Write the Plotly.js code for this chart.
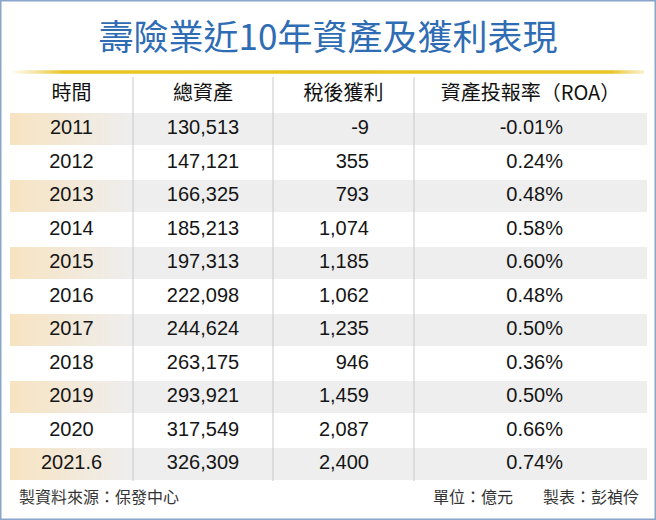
<!DOCTYPE html>
<html>
<head>
<meta charset="utf-8">
<script src="https://cdn.plot.ly/plotly-3.0.1.min.js"></script>
<style>html,body{margin:0;padding:0;background:#fff;}#chart{width:656px;height:520px;}</style>
</head>
<body>
<div id="chart"></div>
<script>
// ---- data ----
var titleText = '壽險業近10年資產及獲利表現';
var headers = ['時間', '總資產', '稅後獲利', '資產投報率（ROA）'];
var years = ['2011', '2012', '2013', '2014', '2015', '2016', '2017', '2018', '2019', '2020', '2021.6'];
var totalAssets = [130513, 147121, 166325, 185213, 197313, 222098, 244624, 263175, 293921, 317549, 326309];
var netProfit = [-9, 355, 793, 1074, 1185, 1062, 1235, 946, 1459, 2087, 2400];
var roa = [-0.01, 0.24, 0.48, 0.58, 0.60, 0.48, 0.50, 0.36, 0.50, 0.66, 0.74];
var sourceNote = '製資料來源：保發中心';
var unitNote = '單位：億元';
var authorNote = '製表：彭禎伶';

// ---- layout geometry (pixel units) ----
var W = 656, H = 520;
var colEdges = [10, 133, 273, 414, 647];
var headerY = 95;
var firstRowY = 129;
var rowPitch = 33.5;
var bandH = 32;
var cjk = '"Noto Sans CJK TC", "Noto Sans CJK SC", sans-serif';
var latin = '"Liberation Sans", Arial, sans-serif';
var textColor = '#151515';

function fmtInt(v) { return v.toLocaleString('en-US'); }
function fmtPct(v) { return v.toFixed(2) + '%'; }
function rowY(i) { return firstRowY + i * rowPitch; }

var rowYs = years.map(function (_, i) { return rowY(i); });
var shadedIdx = years.map(function (_, i) { return i; }).filter(function (i) { return i % 2 === 0; });

var traces = [];

// grey bands
traces.push({
  type: 'bar', orientation: 'h',
  y: shadedIdx.map(rowY),
  x: shadedIdx.map(function () { return colEdges[4] - colEdges[0]; }),
  base: shadedIdx.map(function () { return colEdges[0]; }),
  width: bandH,
  marker: { color: '#eeeeee', line: { width: 0 } },
  hoverinfo: 'skip'
});

// tan gradient in first column of shaded rows
var gx = [], gy = [];
shadedIdx.forEach(function (i) {
  var c = rowY(i), t = c - bandH / 2, b = c + bandH / 2;
  gx.push(colEdges[0], colEdges[1], colEdges[1], colEdges[0], colEdges[0], null);
  gy.push(t, t, b, b, t, null);
});
traces.push({
  type: 'scatter', mode: 'lines', x: gx, y: gy, fill: 'toself',
  line: { width: 0, color: 'rgba(0,0,0,0)' },
  fillgradient: { type: 'horizontal', colorscale: [[0, '#f7e3c0'], [0.45, '#f3e8d6'], [1, '#eeeeee']] },
  hoverinfo: 'skip'
});

// gold rule under title
traces.push({
  type: 'scatter', mode: 'lines',
  x: [12, 644, 644, 12, 12], y: [70.3, 70.3, 73.8, 73.8, 70.3], fill: 'toself',
  line: { width: 0, color: 'rgba(0,0,0,0)' },
  fillgradient: { type: 'horizontal', colorscale: [[0, 'rgba(236,205,80,0.05)'], [0.08, '#e9c52a'], [0.5, '#e7c21e'], [0.95, '#e9c52a'], [1, 'rgba(236,205,80,0.3)']] },
  hoverinfo: 'skip'
});

// header text
traces.push({
  type: 'scatter', mode: 'text',
  x: headers.map(function (_, j) { return (colEdges[j] + colEdges[j + 1]) / 2; }),
  y: headers.map(function () { return headerY; }),
  text: headers, textposition: 'middle center',
  textfont: { family: cjk, size: 20, color: '#111111' },
  hoverinfo: 'skip'
});

// body columns
traces.push({
  type: 'scatter', mode: 'text',
  x: years.map(function () { return (colEdges[0] + colEdges[1]) / 2; }), y: rowYs,
  text: years, textposition: 'middle center',
  textfont: { family: latin, size: 20, color: textColor }, hoverinfo: 'skip'
});
traces.push({
  type: 'scatter', mode: 'text',
  x: years.map(function () { return (colEdges[1] + colEdges[2]) / 2; }), y: rowYs,
  text: totalAssets.map(fmtInt), textposition: 'middle center',
  textfont: { family: latin, size: 20, color: textColor }, hoverinfo: 'skip'
});
traces.push({
  type: 'scatter', mode: 'text',
  x: years.map(function () { return 369; }), y: rowYs,
  text: netProfit.map(fmtInt), textposition: 'middle left',
  textfont: { family: latin, size: 20, color: textColor }, hoverinfo: 'skip'
});
traces.push({
  type: 'scatter', mode: 'text',
  x: years.map(function () { return 563; }), y: rowYs,
  text: roa.map(fmtPct), textposition: 'middle left',
  textfont: { family: latin, size: 20, color: textColor }, hoverinfo: 'skip'
});

var shapes = [];
// vertical dividers
[1, 2, 3].forEach(function (j) {
  shapes.push({ type: 'line', xref: 'x', yref: 'y', x0: colEdges[j], x1: colEdges[j], y0: 77, y1: rowY(years.length - 1) + bandH / 2 + 1,
    line: { color: '#c9c9c9', width: 1 } });
});
// outer frame
shapes.push({ type: 'rect', xref: 'paper', yref: 'paper', x0: 0, x1: 1, y0: 0, y1: 1,
  line: { color: '#8aa5ca', width: 3 }, fillcolor: 'rgba(0,0,0,0)' });

var layout = {
  width: W, height: H,
  margin: { l: 0, r: 0, t: 0, b: 0, pad: 0 },
  paper_bgcolor: '#ffffff', plot_bgcolor: '#ffffff',
  showlegend: false, hovermode: false,
  title: { text: titleText, x: 0.5, xanchor: 'center', xref: 'paper', y: 1 - 38 / H, yref: 'paper', yanchor: 'middle',
    font: { family: cjk, size: 35, color: '#2e6cb4', weight: 'normal' } },
  xaxis: { range: [0, W], visible: false, fixedrange: true },
  yaxis: { range: [H, 0], visible: false, fixedrange: true },
  barmode: 'overlay',
  shapes: shapes,
  annotations: [
    { x: 17, y: 496, xref: 'x', yref: 'y', text: sourceNote, showarrow: false, xanchor: 'left', yanchor: 'middle',
      font: { family: cjk, size: 16, color: '#333333' } },
    { x: 431, y: 496, xref: 'x', yref: 'y', text: unitNote, showarrow: false, xanchor: 'left', yanchor: 'middle',
      font: { family: cjk, size: 16, color: '#333333' } },
    { x: 641, y: 496, xref: 'x', yref: 'y', text: authorNote, showarrow: false, xanchor: 'right', yanchor: 'middle',
      font: { family: cjk, size: 16, color: '#333333' } }
  ]
};

Plotly.newPlot('chart', traces, layout, { staticPlot: true, displayModeBar: false });
</script>
</body>
</html>
